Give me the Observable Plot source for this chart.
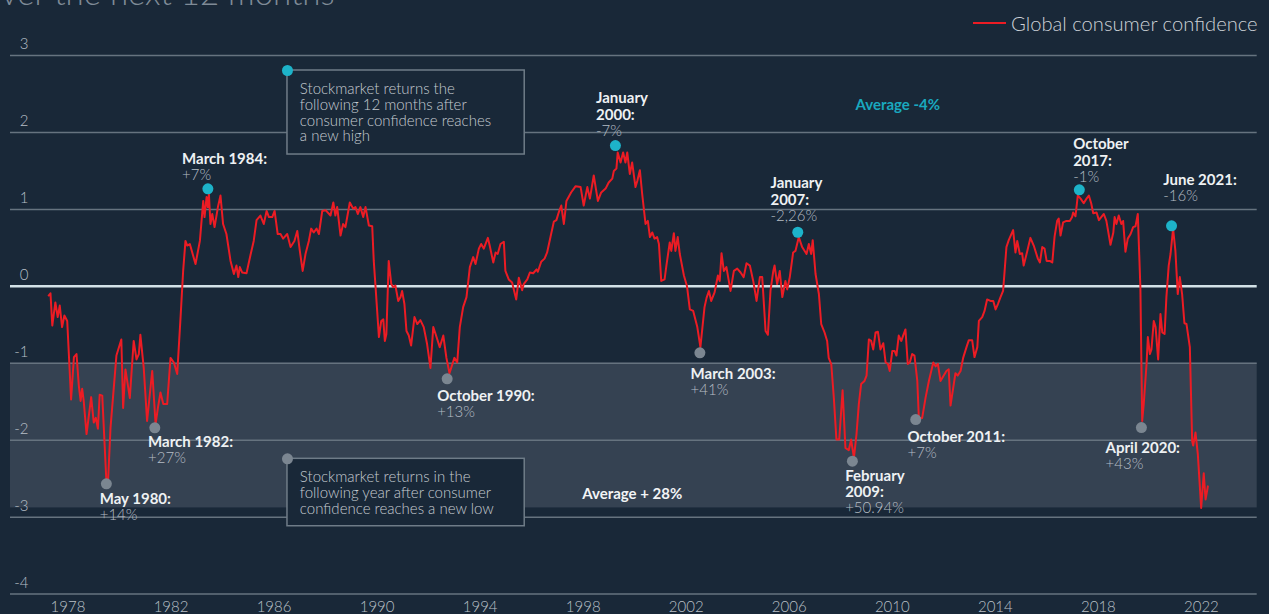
<!DOCTYPE html>
<html><head><meta charset="utf-8">
<script src="https://cdn.jsdelivr.net/npm/d3@7"></script>
<script src="https://cdn.jsdelivr.net/npm/@observablehq/plot@0.6"></script>
<style>
html,body{margin:0;padding:0;background:#192838;overflow:hidden}
#wrap{position:relative;width:1269px;height:614px;font-family:Lato,sans-serif;overflow:hidden}
#chart{position:absolute;left:0;top:0}
#title{position:absolute;left:-17px;top:-24px;font-size:33px;line-height:33px;font-weight:300;color:#7f8b97;white-space:nowrap}
#legend{position:absolute;left:973px;top:13px;height:20px;display:flex;align-items:center;font-size:20.2px;line-height:20px;font-weight:300;color:#cdd2d7;white-space:nowrap}
#legend .sw{display:inline-block;width:33px;height:2px;background:#ec1c24;margin-right:5px}
</style></head>
<body>
<div id="wrap"><div id="chart"></div><div id="title">over the next 12 months</div><div id="legend"><span class="sw"></span><span>Global consumer confidence</span></div></div>
<script>
const years = [
1977.25,1977.32,1977.39,1977.51,1977.60,1977.68,1977.77,1977.86,1977.97,
1978.12,1978.23,1978.33,1978.42,1978.49,1978.55,1978.61,1978.72,1978.90,
1979.00,1979.08,1979.16,1979.23,1979.33,1979.49,1979.55,1979.65,1979.88,
1980.07,1980.14,1980.23,1980.40,1980.55,1980.66,1980.75,1980.81,1980.94,
1981.07,1981.27,1981.40,1981.49,1981.59,1981.70,1981.85,1981.98,
1982.11,1982.24,1982.37,1982.47,1982.56,1982.63,1982.73,1982.95,
1983.12,1983.25,1983.30,1983.38,1983.43,1983.47,1983.53,1983.60,1983.69,1983.82,1983.92,
1984.02,1984.15,1984.31,1984.44,1984.54,1984.61,1984.67,1984.76,1984.93,
1985.08,1985.21,1985.32,1985.47,1985.60,1985.71,1985.80,1985.93,
1986.02,1986.14,1986.25,1986.35,1986.51,1986.64,1986.79,1986.90,
1987.00,1987.11,1987.22,1987.35,1987.44,1987.54,1987.65,1987.74,1987.87,
1988.00,1988.19,1988.30,1988.38,1988.45,1988.58,1988.68,1988.77,1988.86,1988.94,
1989.07,1989.16,1989.25,1989.35,1989.46,1989.55,1989.68,1989.81,1989.87,1989.94,
1990.07,1990.16,1990.24,1990.30,1990.36,1990.45,1990.55,1990.62,1990.71,1990.82,1990.91,1990.97,
1991.06,1991.14,1991.23,1991.32,1991.45,1991.56,1991.68,1991.81,1991.94,
1992.07,1992.18,1992.27,1992.43,1992.57,1992.69,1992.81,
1993.00,1993.11,1993.21,1993.34,1993.47,1993.60,1993.73,1993.82,1993.95,
1994.04,1994.14,1994.30,1994.37,1994.51,1994.60,1994.68,1994.79,1994.92,1994.98,
1995.11,1995.24,1995.40,1995.50,1995.63,1995.69,1995.83,1995.93,
1996.06,1996.19,1996.24,1996.37,1996.50,1996.60,1996.73,1996.86,1996.96,
1997.05,1997.15,1997.25,1997.35,1997.53,1997.70,1997.90,
1998.02,1998.16,1998.26,1998.41,1998.57,1998.70,1998.87,1998.99,
1999.13,1999.19,1999.29,1999.34,1999.45,1999.55,1999.64,1999.71,1999.81,1999.90,
2000.03,2000.10,2000.20,2000.29,2000.42,2000.51,2000.59,2000.68,2000.77,2000.87,2000.94,
2001.03,2001.16,2001.23,2001.36,2001.42,2001.52,2001.58,2001.67,2001.75,2001.91,
2002.03,2002.14,2002.27,2002.43,2002.55,2002.71,2002.79,2002.88,2002.97,
2003.10,2003.23,2003.30,2003.37,2003.46,2003.56,2003.72,2003.85,2003.98,
2004.11,2004.23,2004.34,2004.47,2004.60,2004.73,2004.86,2004.95,
2005.08,2005.17,2005.27,2005.38,2005.43,2005.53,2005.63,2005.73,2005.85,2005.92,
2006.02,2006.15,2006.24,2006.37,2006.50,2006.67,2006.76,2006.85,2006.91,
2007.02,2007.15,2007.24,2007.37,2007.47,2007.53,2007.63,2007.73,2007.83,2007.94,
2008.07,2008.18,2008.31,2008.40,2008.51,2008.61,2008.70,2008.79,2008.92,
2009.00,2009.09,2009.18,2009.26,2009.35,2009.44,2009.54,2009.65,2009.74,2009.83,2009.90,
2010.00,2010.09,2010.16,2010.25,2010.35,2010.42,2010.51,2010.60,2010.68,2010.77,2010.86,2010.97,
2011.03,2011.16,2011.29,2011.42,2011.59,2011.68,2011.77,2011.87,
2012.10,2012.19,2012.26,2012.45,2012.54,2012.65,2012.75,2012.88,2012.97,
2013.10,2013.19,2013.30,2013.36,2013.49,2013.58,2013.68,2013.81,2013.92,
2014.01,2014.10,2014.20,2014.30,2014.36,2014.43,2014.52,2014.69,2014.78,2014.85,2014.95,
2015.04,2015.10,2015.24,2015.36,2015.49,2015.65,2015.73,2015.82,2015.91,2015.99,
2016.11,2016.21,2016.30,2016.40,2016.46,2016.53,2016.63,2016.76,2016.89,2016.98,
2017.02,2017.11,2017.20,2017.31,2017.43,2017.54,2017.63,2017.72,2017.80,2017.93,
2018.02,2018.11,2018.21,2018.31,2018.47,2018.58,2018.63,2018.70,2018.79,2018.89,2018.96,
2019.05,2019.14,2019.25,2019.35,2019.44,2019.53,2019.63,2019.70,2019.76,2019.87,2019.92,
2020.00,2020.06,2020.15,2020.22,2020.32,2020.41,2020.48,2020.57,2020.64,2020.73,2020.80,2020.90,2020.99,
2021.08,2021.16,2021.25,2021.34,2021.42,2021.55,2021.64,2021.68,2021.77,2021.86,2021.99,
2022.09,2022.16,2022.25
];
const confidence = [
-0.12,-0.09,-0.51,-0.21,-0.40,-0.25,-0.53,-0.38,-0.45,
-1.47,-0.92,-0.88,-1.29,-1.49,-1.33,-1.49,-1.92,-1.44,
-1.77,-1.71,-1.85,-1.41,-1.42,-2.53,-2.57,-1.84,-0.90,
-0.69,-1.58,-1.08,-1.45,-0.71,-0.95,-0.88,-0.63,-1.06,
-1.75,-1.10,-1.79,-1.58,-1.38,-1.53,-1.53,-0.93,
-0.99,-1.14,-0.40,0.20,0.59,0.53,0.55,0.29,
0.59,1.11,0.90,1.16,1.03,1.20,0.81,0.94,0.77,1.03,1.18,
0.81,0.68,0.33,0.16,0.27,0.12,0.25,0.18,0.17,
0.40,0.59,0.86,0.92,0.81,0.98,0.90,0.90,
0.98,0.68,0.68,0.62,0.68,0.51,0.59,0.72,
0.46,0.20,0.42,0.59,0.75,0.70,0.75,0.68,0.98,
0.99,0.92,1.09,0.92,1.03,0.66,0.81,0.77,0.94,1.09,
1.01,1.03,0.94,1.03,0.90,1.03,0.79,0.78,0.33,-0.01,
-0.66,-0.45,-0.43,-0.71,-0.62,0.33,0.03,-0.01,0.01,-0.19,-0.14,-0.06,
-0.23,-0.58,-0.64,-0.77,-0.40,-0.49,-0.44,-0.53,-0.75,
-1.06,-0.53,-0.62,-0.79,-0.64,-0.93,-1.13,
-0.93,-0.99,-0.53,-0.27,-0.14,0.25,0.38,0.29,0.49,
0.55,0.49,0.63,0.53,0.31,0.44,0.42,0.55,0.58,0.20,
0.09,0.05,-0.17,0.11,-0.05,0.03,0.09,0.18,
0.17,0.22,0.19,0.32,0.36,0.44,0.64,0.84,0.86,
0.96,1.05,0.81,1.11,1.22,1.30,1.29,
1.05,1.29,1.14,1.44,1.11,1.22,1.27,1.35,
1.40,1.50,1.53,1.74,1.61,1.74,1.61,1.74,1.46,1.61,
1.29,1.37,1.51,1.20,0.81,0.85,0.64,0.70,0.62,0.64,0.55,
0.07,0.09,0.27,0.57,0.46,0.69,0.46,0.64,0.42,0.14,
0.00,-0.30,-0.32,-0.53,-0.79,-0.27,-0.15,-0.06,-0.19,
-0.08,0.14,0.07,0.43,0.20,0.25,-0.06,0.20,0.23,
0.18,0.12,0.30,0.27,0.07,-0.19,0.12,0.12,
-0.58,-0.63,-0.06,0.20,0.27,0.03,0.20,-0.14,0.07,-0.04,
0.12,0.44,0.46,0.64,0.51,0.42,0.55,0.42,0.60,
0.16,-0.10,-0.49,-0.60,-0.71,-0.93,-1.01,-1.45,-1.99,-1.99,
-1.35,-2.10,-2.13,-1.99,-2.23,-1.92,-1.53,-1.27,-1.23,
-1.16,-0.69,-0.71,-0.82,-0.60,-0.59,-0.82,-0.74,-0.99,-1.01,-1.10,
-0.84,-0.84,-0.90,-0.64,-0.71,-0.64,-0.56,-1.01,-0.99,-0.88,-0.90,-1.23,
-1.71,-1.71,-1.45,-1.23,-0.99,-1.04,-1.01,-1.23,
-1.10,-1.08,-1.55,-1.13,-1.16,-1.10,-0.93,-0.79,-0.70,
-0.70,-0.92,-0.79,-0.45,-0.40,-0.32,-0.17,-0.19,-0.19,
-0.30,-0.23,-0.14,-0.06,0.20,0.51,0.60,0.73,0.44,0.59,0.42,
0.43,0.27,0.46,0.63,0.53,0.36,0.31,0.51,0.49,0.33,
0.33,0.31,0.65,0.85,0.88,0.66,0.83,0.85,0.85,0.90,
0.96,0.91,1.18,1.14,1.08,1.14,1.18,1.08,0.95,0.96,
0.86,0.90,0.94,0.85,0.54,0.70,0.90,0.81,0.92,0.81,0.85,
0.45,0.62,0.68,0.77,0.78,0.94,-0.01,-1.75,-1.53,-1.01,-0.66,
-0.88,-0.82,-0.45,-0.53,-0.95,-0.36,-0.60,-0.62,-0.14,0.27,0.42,0.75,0.46,
-0.10,0.12,-0.10,-0.48,-0.49,-0.79,-2.01,-2.07,-1.90,-2.18,-2.88,
-2.43,-2.77,-2.60
];

// Tick labels
const xTicks = [1978,1982,1986,1990,1994,1998,2002,2006,2010,2014,2018,2022];
const yTicks = [-4,-3,-2,-1,0,1,2,3];

// Highs (new highs of confidence)
const highNames = ["March 1984:", "January\n2000:", "January\n2007:", "October\n2017:", "June 2021:"];
const highReturns = ["+7%", "-7%", "-2,26%", "-1%", "-16%"];
const highYears = [1983.43, 1999.25, 2006.33, 2017.26, 2020.84];
const highValues = [1.267, 1.830, 0.703, 1.254, 0.786];
const highLabelYears = [1982.43, 1998.50, 2005.27, 2017.02, 2020.52];
const highLabelValues = [1.596, 2.168, 1.063, 1.570, 1.323];

// Lows (new lows of confidence)
const lowNames = ["May 1980:", "March 1982:", "October 1990:", "March 2003:", "February\n2009:", "October 2011:", "April 2020:"];
const lowReturns = ["+14%", "+27%", "+13%", "+41%", "+50.94%", "+7%", "+43%"];
const lowYears = [1979.49, 1981.37, 1992.72, 2002.53, 2008.45, 2010.91, 2019.67];
const lowValues = [-2.567, -1.839, -1.202, -0.864, -2.273, -1.731, -1.835];
const lowLabelYears = [1979.23, 1981.11, 1992.33, 2002.17, 2008.17, 2010.59, 2018.28];
const lowLabelValues = [-2.823, -2.091, -1.493, -1.202, -2.741, -2.017, -2.164];

// Low-confidence zone
const zoneTop = -1;
const zoneBottom = -2.88;

// Explanatory boxes
const boxTexts = ["Stockmarket returns the\nfollowing 12 months after\nconsumer confidence reaches\na new high",
                  "Stockmarket returns in the\nfollowing year after consumer\nconfidence reaches a new low"];
const boxKinds = ["high", "low"];
const boxYear1 = [1986.52, 1986.52];
const boxYear2 = [1995.73, 1995.73];
const boxTop = [2.805, -2.242];
const boxBottom = [1.713, -3.118];
const boxTextYears = [1987.00, 1987.00];
const boxTextValues = [2.649, -2.399];

// Averages
const avgTexts = ["Average -4%", "Average + 28%"];
const avgKinds = ["high", "low"];
const avgYears = [2008.57, 1997.96];
const avgValues = [2.298, -2.759];

const series = years.map((y, i) => ({year: y, value: confidence[i]}));
const highs = highNames.map((n, i) => ({name: n, ret: highReturns[i], year: highYears[i], value: highValues[i], ly: highLabelYears[i], lv: highLabelValues[i]}));
const lows = lowNames.map((n, i) => ({name: n, ret: lowReturns[i], year: lowYears[i], value: lowValues[i], ly: lowLabelYears[i], lv: lowLabelValues[i]}));
const labels = highs.concat(lows);
const boxes = boxTexts.map((t, i) => ({text: t, kind: boxKinds[i], x1: boxYear1[i], x2: boxYear2[i], y1: boxTop[i], y2: boxBottom[i], tx: boxTextYears[i], ty: boxTextValues[i]}));
const avgs = avgTexts.map((t, i) => ({text: t, kind: avgKinds[i], x: avgYears[i], y: avgValues[i]}));

const BG = "#192838", TEAL = "#1db3c9", GREY = "#7b8691", RED = "#ec1c24";

const chart = Plot.plot({
  width: 1269,
  height: 614,
  marginLeft: 10,
  marginRight: 12.3,
  marginTop: 55,
  marginBottom: 20.4,
  x: {domain: [1975.768, 2024.165]},
  y: {domain: [-4, 3]},
  style: {background: "transparent", fontFamily: "Lato, sans-serif", overflow: "visible"},
  marks: [
    Plot.rect([{top: zoneTop, bottom: zoneBottom}], {y1: "top", y2: "bottom", fill: "#354252"}),
    Plot.ruleY(yTicks.filter(d => d !== 0), {stroke: "#66737f", strokeWidth: 1.5}),
    Plot.ruleY([0], {stroke: "#d3e2e7", strokeWidth: 2.5}),
    Plot.axisY({ticks: yTicks, tickSize: 0, tickPadding: 0, dx: 18, dy: -11, textAnchor: "end", tickFormat: d => String(d), fontSize: 15, fontWeight: 300, color: "#b7bfc7"}),
    Plot.axisX({ticks: xTicks, tickSize: 0, tickPadding: 7, tickFormat: d => String(d), fontSize: 15, fontWeight: 300, color: "#b9c0c7"}),
    Plot.rect(boxes, {x1: "x1", x2: "x2", y1: "y1", y2: "y2", fill: BG, stroke: "#6f7c88", strokeWidth: 1.5}),
    Plot.text(boxes, {x: "tx", y: "ty", text: "text", textAnchor: "start", lineAnchor: "top", lineHeight: 1.06, fontSize: 15, fontWeight: 300, fill: "#c5cbd1"}),
    Plot.line(series, {x: "year", y: "value", stroke: RED, strokeWidth: 2}),
    Plot.dot(boxes, {x: "x1", y: "y1", r: 5.5, fill: d => d.kind === "high" ? TEAL : GREY}),
    Plot.dot(highs, {x: "year", y: "value", r: 5.5, fill: TEAL}),
    Plot.dot(lows, {x: "year", y: "value", r: 5.5, fill: GREY}),
    Plot.text(labels, {x: "ly", y: "lv", text: "name", textAnchor: "start", lineAnchor: "bottom", lineHeight: 1.07, fontSize: 15, fontWeight: 700, fill: "#eef1f3"}),
    Plot.text(labels, {x: "ly", y: "lv", text: "ret", textAnchor: "start", lineAnchor: "bottom", dy: 16, fontSize: 15, fontWeight: 300, fill: "#b5bdc5"}),
    Plot.text(avgs, {x: "x", y: "y", text: "text", textAnchor: "start", lineAnchor: "bottom", fontSize: 15, fontWeight: 700, fill: d => d.kind === "high" ? "#19a8bf" : "#f2f4f6"})
  ]
});
document.getElementById("chart").appendChild(chart);
</script>
</body></html>
